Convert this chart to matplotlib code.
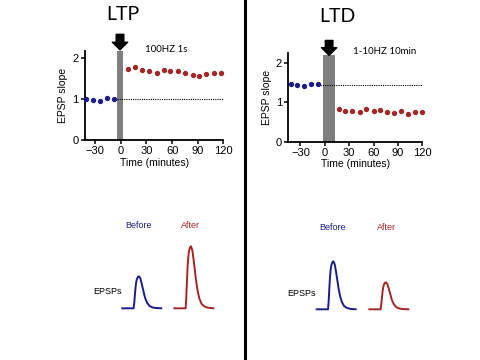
import numpy as np
import matplotlib
matplotlib.use('Agg')
import matplotlib.pyplot as plt

# EPSP slope time courses (minutes, normalised slope)
ltp_pre_t = [-41, -33, -25, -16, -8]
ltp_pre_v = [1.00, 0.98, 0.95, 1.02, 0.99]
ltp_post_t = [8.5, 17, 25, 33, 42, 50, 58, 67, 75, 84, 92, 100, 109, 117]
ltp_post_v = [1.73, 1.77, 1.71, 1.68, 1.63, 1.70, 1.68, 1.69, 1.64, 1.58, 1.57, 1.60, 1.63, 1.63]

ltd_pre_t = [-42, -34, -26, -17, -9]
ltd_pre_v = [1.47, 1.44, 1.41, 1.48, 1.46]
ltd_post_t = [17, 25, 34, 43, 51, 60, 68, 77, 85, 94, 103, 111, 120]
ltd_post_v = [0.83, 0.79, 0.79, 0.75, 0.83, 0.78, 0.81, 0.76, 0.72, 0.77, 0.71, 0.76, 0.75]

ltp_baseline = 1.0
ltd_baseline = 1.45
ltp_stim = (-4, 2)
ltd_stim = (-2, 12.5)
ltp_label = '100HZ 1s'
ltd_label = '1-10HZ 10min'

# EPSP waveform (normalised shape) and amplitudes (a.u.)
wave_t = [0, 34, 36, 38, 40, 42, 44, 47, 50, 54, 58, 62, 66, 70, 75, 82, 90, 100, 117]
wave_v = [0, 0, 0.18, 0.45, 0.68, 0.83, 0.92, 0.98, 1.0, 0.94, 0.78, 0.6, 0.42, 0.28, 0.16, 0.07, 0.03, 0.01, 0]
ltp_amp = [32, 62]   # before, after
ltd_amp = [48, 27]

xticks = [-30, 0, 30, 60, 90, 120]
yticks = [0, 1, 2]

blue = '#1c1c8c'
red = '#a82424'
grey = '#7f7f7f'

plt.rcParams['font.family'] = ['Liberation Sans', 'DejaVu Sans']

W, H = 480, 360
fig = plt.figure(figsize=(4.8, 3.6), dpi=100)


def px(x0, y0, x1, y1):
    # pixel box -> figure rect
    return [x0 / W, 1 - y1 / H, (x1 - x0) / W, (y1 - y0) / H]


def slope_panel(rect, xlim, ylim, pre_t, pre_v, post_t, post_v, base, stim, dline):
    ax = fig.add_axes(rect)
    ax.bar((stim[0] + stim[1]) / 2, 2.2, width=stim[1] - stim[0], color=grey, zorder=1)
    ax.plot(dline, [base, base], ls=(0, (1, 1)), color='black', lw=0.8, zorder=2)
    ax.plot(pre_t, pre_v, 'o', color=blue, ms=2.8, ls='none', zorder=3, clip_on=False)
    ax.plot(post_t, post_v, 'o', color=red, ms=2.8, ls='none', zorder=3, clip_on=False)
    ax.annotate('', xy=((stim[0] + stim[1]) / 2, 2.2), xytext=((stim[0] + stim[1]) / 2, 2.58),
                arrowprops=dict(arrowstyle='simple,head_length=0.55,head_width=1.1,tail_width=0.55',
                                color='black', shrinkA=0, shrinkB=0),
                annotation_clip=False)
    ax.set_xlim(*xlim)
    ax.set_ylim(*ylim)
    ax.set_xticks(xticks)
    ax.set_yticks(yticks)
    for s in ['top', 'right']:
        ax.spines[s].set_visible(False)
    ax.spines['left'].set_bounds(0, ylim[1])
    ax.spines['bottom'].set_bounds(xlim[0], 120)
    for s in ['left', 'bottom']:
        ax.spines[s].set_linewidth(1.3)
    ax.tick_params(width=1.1, length=3, labelsize=8, pad=1.5)
    ax.set_xlabel('Time (minutes)', fontsize=7.5, labelpad=1)
    ax.set_ylabel('EPSP slope', fontsize=7.5, labelpad=3)
    return ax


slope_panel(px(85, 50.7, 223.3, 140), (-42, 120), (0, 2.18),
            ltp_pre_t, ltp_pre_v, ltp_post_t, ltp_post_v, ltp_baseline, ltp_stim, (-5, 120))
slope_panel(px(288.3, 53, 422.3, 141.7), (-45, 120), (0, 2.26),
            ltd_pre_t, ltd_pre_v, ltd_post_t, ltd_post_v, ltd_baseline, ltd_stim, (-8, 122))

fig.text(123 / W, 1 - 15 / H, 'LTP', fontsize=14, ha='center', va='center', family=['Lato'])
fig.text(337 / W, 1 - 17 / H, 'LTD', fontsize=14, ha='center', va='center', family=['Lato'])
fig.text(145 / W, 1 - 49 / H, ltp_label, fontsize=7, ha='left', va='center', family=['Lato'])
fig.text(353 / W, 1 - 52 / H, ltd_label, fontsize=7, ha='left', va='center', family=['Lato'])

# divider
fig.add_artist(plt.Line2D([245 / W, 245 / W], [0, 1], color='black', lw=2.2))


def trace(x0, base_y, amp, color):
    ax = fig.add_axes(px(x0, base_y - 70, x0 + 39, base_y))
    ax.plot(np.array(wave_t), np.array(wave_v) * amp, color=color, lw=1.4, clip_on=False)
    ax.set_xlim(0, 117)
    ax.set_ylim(0, 70 * 3)
    ax.axis('off')


# trace y-units are in 3x pixels, so scale amplitudes accordingly
trace(122.3, 308.3, ltp_amp[0] * 3, blue)
trace(174.3, 308.3, ltp_amp[1] * 3, red)
trace(316.7, 309.3, ltd_amp[0] * 3, blue)
trace(369.3, 309.3, ltd_amp[1] * 3, red)

fig.text(138 / W, 1 - 226 / H, 'Before', color=blue, fontsize=6.5, ha='center', va='center')
fig.text(190 / W, 1 - 226 / H, 'After', color=red, fontsize=6.5, ha='center', va='center')
fig.text(93 / W, 1 - 292 / H, 'EPSPs', color='black', fontsize=6.5, ha='left', va='center')
fig.text(333 / W, 1 - 227 / H, 'Before', color=blue, fontsize=6.5, ha='center', va='center')
fig.text(386 / W, 1 - 227 / H, 'After', color=red, fontsize=6.5, ha='center', va='center')
fig.text(287 / W, 1 - 293 / H, 'EPSPs', color='black', fontsize=6.5, ha='left', va='center')

fig.savefig('out.png', dpi=100)
